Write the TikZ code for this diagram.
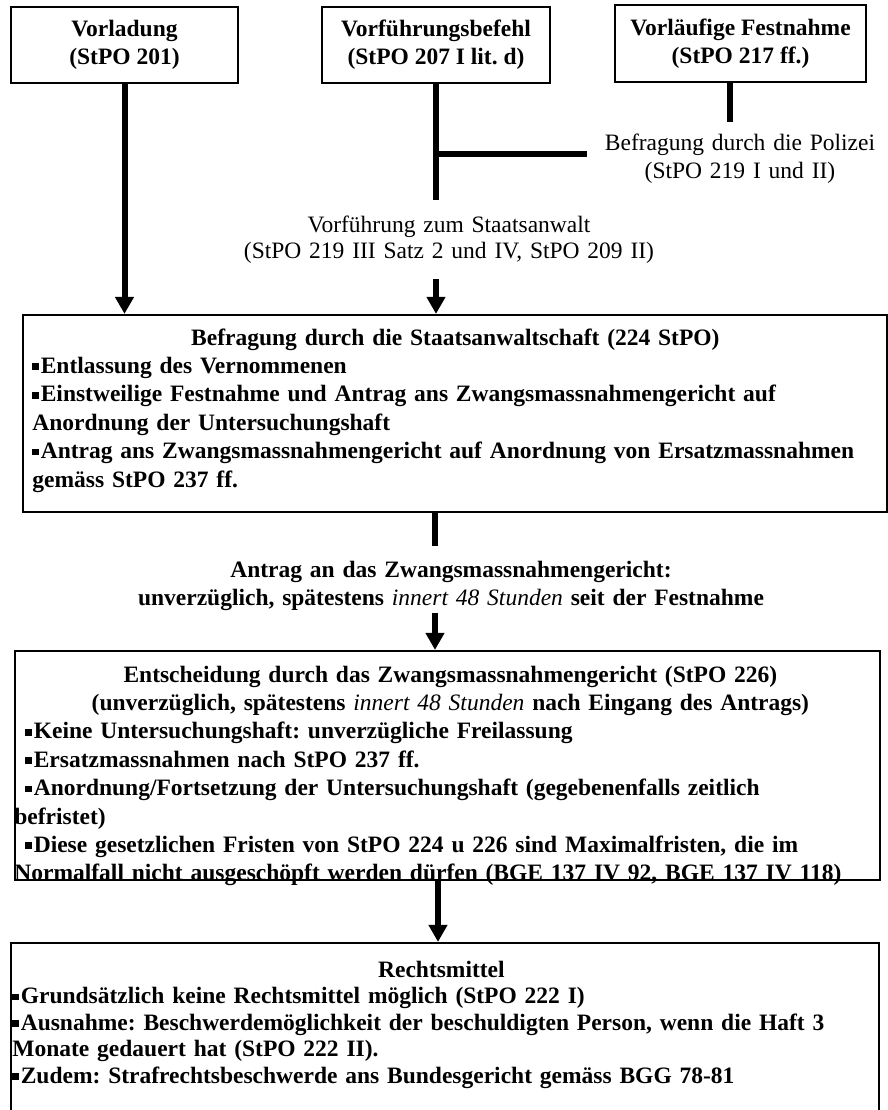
\documentclass[tikz,border=0pt]{standalone}
\usepackage{fontspec}
\setmainfont{Liberation Serif}
\usetikzlibrary{arrows.meta, calc}
\frenchspacing
\newcommand{\sqbullet}{\rule[1.6pt]{3.4pt}{3.4pt}\hspace{0.8pt}}
\newcommand{\frist}[1]{{\mdseries\itshape #1}}
\begin{document}
\begin{tikzpicture}[
    x=0.5pt, y=-0.5pt,
    frame/.style={rectangle, draw=black, line width=1.1pt, inner sep=0pt},
    startbox/.style={frame, align=center, font=\fontsize{11.75}{14}\selectfont\bfseries},
    boxtext/.style={inner sep=0pt, align=left, anchor=base west, font=\fontsize{11.75}{14.2}\selectfont\bfseries},
    note/.style={align=center, anchor=base, font=\fontsize{11.75}{14}\selectfont},
    connector/.style={line width=3pt},
    arrow/.style={line width=3pt, -{Triangle[length=8.5pt, width=9pt]}}
  ]
  \clip (0,0) rectangle (888,1110);
  % Einleitung
  \node[startbox, minimum width=113.5pt, minimum height=38pt] (vorl) at (124.5,45) {Vorladung\\(StPO 201)};
  \node[startbox, minimum width=114pt, minimum height=38pt] (befehl) at (436,45) {Vorführungsbefehl\\(StPO 207 I lit.\ d)};
  \node[startbox, minimum width=125.5pt, minimum height=38.5pt] (fest) at (740.5,43.5) {Vorläufige Festnahme\\(StPO 217 ff.)};
  %
  % Zwischenschritte
  \node[note, text width=150pt, inner xsep=1.5pt, inner ysep=5.3pt] (polizei) at (740,150) {Befragung durch die Polizei\\(StPO 219 I und II)};
  \node[note, text width=220pt, inner ysep=7.7pt, font=\fontsize{11.75}{13}\selectfont] (vorf) at (449,232) {Vorführung zum Staatsanwalt\\(StPO 219 III Satz 2 und IV, StPO 209 II)};
  %
  % Staatsanwaltschaft
  \node[frame, minimum width=432pt, minimum height=98.5pt] (sa) at (455,413.5) {};
  \node[boxtext, text width=423pt] (satext) at (32,345) {\centering Befragung durch die Staatsanwaltschaft (224 StPO)\par
    \raggedright\sqbullet Entlassung des Vernommenen\\
    \sqbullet Einstweilige Festnahme und Antrag ans Zwangsmassnahmengericht auf\\
    Anordnung der Untersuchungshaft\\
    \sqbullet Antrag ans Zwangsmassnahmengericht auf Anordnung von Ersatzmassnahmen\\
    gemäss StPO 237 ff.};
  %
  \coordinate (antragtop) at (435,546);
  \node[note, text width=330pt, inner ysep=1pt, font=\fontsize{11.75}{14}\selectfont\bfseries] (antrag) at (451,577) {Antrag an das Zwangsmassnahmengericht:\\unverzüglich, spätestens \frist{innert 48 Stunden} seit der Festnahme};
  %
  % Zwangsmassnahmengericht
  \node[frame, minimum width=432.5pt, minimum height=114.5pt] (zmg) at (447.5,765.5) {};
  \node[boxtext, text width=425pt] (zmgtext) at (25,682) {\centering Entscheidung durch das Zwangsmassnahmengericht (StPO 226)\\
    (unverzüglich, spätestens \frist{innert 48 Stunden} nach Eingang des Antrags)\par
    \raggedright\sqbullet Keine Untersuchungshaft: unverzügliche Freilassung\\
    \sqbullet Ersatzmassnahmen nach StPO 237 ff.\\
    \sqbullet Anordnung/Fortsetzung der Untersuchungshaft (gegebenenfalls zeitlich\\
    \hspace*{-5.5pt}befristet)\\
    \sqbullet Diese gesetzlichen Fristen von StPO 224 u 226 sind Maximalfristen, die im\\
    \hspace*{-5.5pt}Normalfall nicht ausgeschöpft werden dürfen (BGE 137 IV 92, BGE 137 IV 118)};
  %
  % Rechtsmittel
  \node[frame, minimum width=434pt, minimum height=91pt] (rm) at (445,1034) {};
  \node[boxtext, text width=429pt, font=\fontsize{11.75}{13.3}\selectfont\bfseries] (rmtext) at (12,977) {\centering Rechtsmittel\par
    \raggedright\sqbullet Grundsätzlich keine Rechtsmittel möglich (StPO 222 I)\\
    \sqbullet Ausnahme: Beschwerdemöglichkeit der beschuldigten Person, wenn die Haft 3\\
    Monate gedauert hat (StPO 222 II).\\
    \sqbullet Zudem: Strafrechtsbeschwerde ans Bundesgericht gemäss BGG 78-81};
  %
  % Verbindungen
  \draw[arrow] (vorl.south) -- (vorl.south |- sa.north);
  \draw[connector] (befehl.south) -- (befehl.south |- vorf.north);
  \draw[arrow] (befehl.south |- vorf.south) -- (befehl.south |- sa.north);
  \draw[connector] ([xshift=-5.25pt]fest.south) -- ([xshift=-5.25pt]fest.south |- polizei.north);
  \draw[connector] ([yshift=2.2pt]polizei.west) -- ([yshift=2.2pt]polizei.west -| befehl.south);
  \draw[connector] (sa.south -| antragtop) -- (antragtop);
  \draw[arrow] (antrag.south -| antragtop) -- (zmg.north -| antragtop);
  \draw[arrow] ([xshift=-4.75pt]zmg.south) -- ([xshift=-4.75pt]zmg.south |- rm.north);
\end{tikzpicture}
\end{document}
